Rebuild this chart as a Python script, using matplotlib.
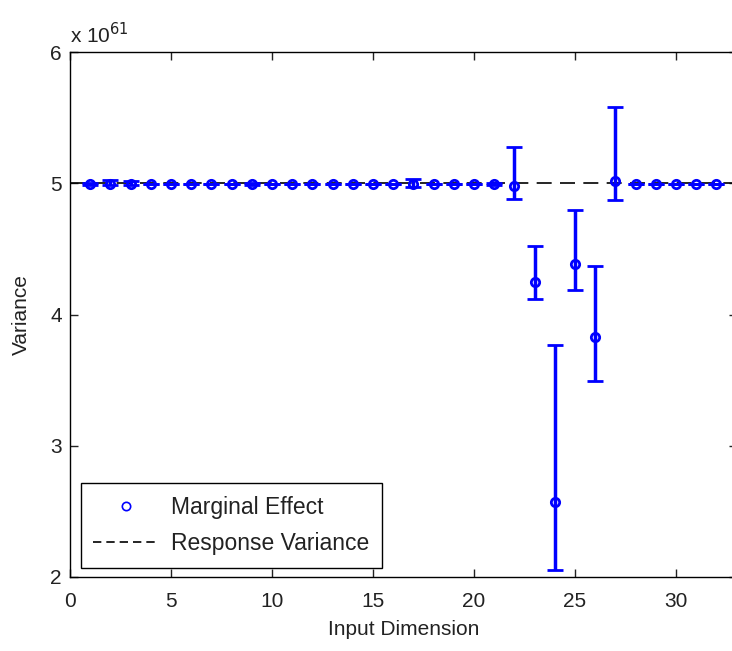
import matplotlib.pyplot as plt
import numpy as np
from matplotlib.lines import Line2D

plt.rcParams['font.family'] = ['Liberation Sans', 'DejaVu Sans']

# input dimensions and marginal effect (units of 1e61)
dims = np.arange(1, 33)
effect = [4.995, 4.995, 4.995, 4.995, 4.995, 4.995, 4.995, 4.995, 4.995, 4.995,
          4.995, 4.995, 4.995, 4.995, 4.995, 4.995, 4.995, 4.995, 4.995, 4.995,
          4.995, 4.98, 4.25, 2.57, 4.385, 3.83, 5.02, 4.995, 4.995, 4.995,
          4.995, 4.995]
err_low = [0.01, 0.01, 0.01, 0.0, 0.0, 0.0, 0.0, 0.0, 0.01, 0.0,
           0.0, 0.0, 0.0, 0.0, 0.0, 0.0, 0.02, 0.0, 0.0, 0.0,
           0.01, 0.10, 0.13, 0.52, 0.195, 0.34, 0.15, 0.0, 0.0, 0.0,
           0.0, 0.0]
err_high = [0.01, 0.03, 0.02, 0.0, 0.0, 0.0, 0.0, 0.0, 0.01, 0.0,
            0.0, 0.0, 0.0, 0.0, 0.0, 0.0, 0.04, 0.0, 0.0, 0.0,
            0.01, 0.30, 0.27, 1.20, 0.415, 0.54, 0.56, 0.0, 0.0, 0.0,
            0.0, 0.0]
response_var = 5.0

fig = plt.figure(figsize=(7.32, 6.51), dpi=100)
ax = fig.add_axes([70 / 732, 74 / 651, 33 * 20.2 / 732, 525 / 651])

ax.errorbar(dims, effect, yerr=[err_low, err_high], fmt='o', color='blue',
            mfc='none', mec='blue', ms=6, mew=2, elinewidth=2.5,
            capsize=6, capthick=2.5, zorder=3)
ax.axhline(response_var, color='black', ls=(0, (9, 5)), lw=1.2, zorder=2)

ax.set_xlim(0, 33)
ax.set_ylim(2, 6)
ax.set_xticks([0, 5, 10, 15, 20, 25, 30])
ax.set_yticks([2, 3, 4, 5, 6])
ax.tick_params(direction='in', top=True, right=True, labelsize=15,
               length=6, width=1, colors='#222222')
ax.tick_params(axis='x', pad=11)
ax.tick_params(axis='y', pad=6)
for s in ax.spines.values():
    s.set_linewidth(1)
ax.set_xlabel('Input Dimension', fontsize=15, color='#222222', labelpad=6)
ax.set_ylabel('Variance', fontsize=15, color='#222222', labelpad=14)
ax.text(0.0, 1.01, r'x 10$^{61}$', transform=ax.transAxes, fontsize=15,
        va='bottom', ha='left', color='#222222')

handles = [
    Line2D([], [], marker='o', ls='none', mfc='none', mec='blue', ms=6,
           mew=1.2),
    Line2D([], [], color='black', ls=(0, (5, 3)), lw=1.2),
]
leg = ax.legend(handles, ['Marginal Effect', 'Response Variance'],
                loc='lower left', bbox_to_anchor=(0.006, 0.004),
                fontsize=16.5, fancybox=False, framealpha=1,
                edgecolor='black', handlelength=2.8, borderpad=0.55,
                labelspacing=0.6, handletextpad=0.6, borderaxespad=0.3)
leg.get_frame().set_linewidth(1)
for t in leg.get_texts():
    t.set_color('#222222')

fig.savefig('out.png', dpi=100)
